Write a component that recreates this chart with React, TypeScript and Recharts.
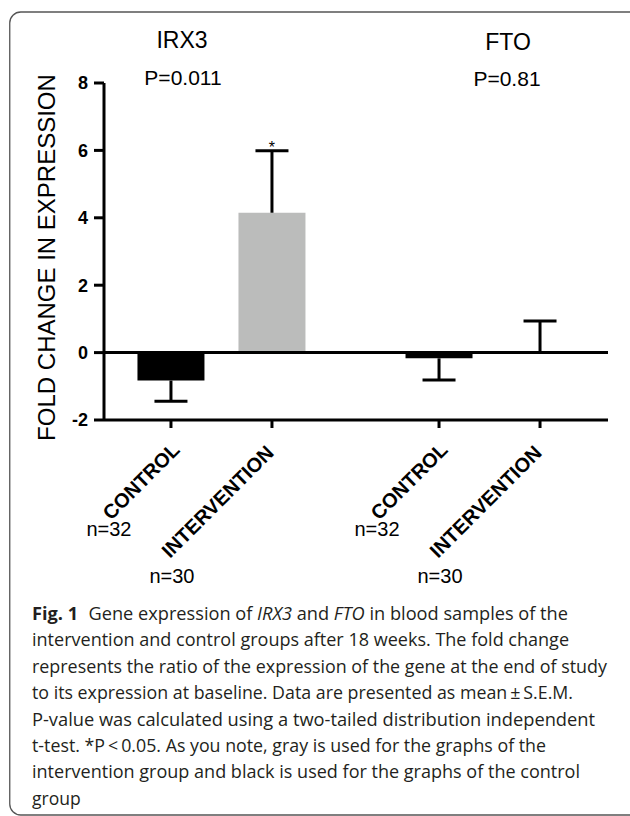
import React from 'react';
import { ComposedChart, Bar, Cell, XAxis, YAxis, ReferenceLine, Scatter, ErrorBar } from 'recharts';

// ---- data ----
const genes = ['IRX3', 'FTO'];
const pValues = ['P=0.011', 'P=0.81'];
const groups = ['CONTROL', 'INTERVENTION'];
const groupColors = ['#000000', '#BBBCBB'];
const sampleSizesIRX3 = ['n=32', 'n=30'];
const sampleSizesFTO = ['n=32', 'n=30'];
const meanIRX3 = [-0.83, 4.15];
const semIRX3 = [0.61, 1.84];
const meanFTO = [-0.17, 0.03];
const semFTO = [0.64, 0.91];
const significantIRX3 = [false, true];
const significantFTO = [false, false];
const yTicks = [-2, 0, 2, 4, 6, 8];
const captionLines = [
  'Fig. 1',
  'intervention and control groups after 18 weeks. The fold change',
  'represents the ratio of the expression of the gene at the end of study',
  'to its expression at baseline. Data are presented as mean\u2009\u00b1\u2009S.E.M.',
  'P-value was calculated using a two-tailed distribution independent',
  't-test. *P\u2009<\u20090.05. As you note, gray is used for the graphs of the',
  'intervention group and black is used for the graphs of the control',
  'group',
];

// ---- layout ----
const W = 630;
const H = 816;
const GROUP_STEP = 2.654;
const X_DOMAIN: [number, number] = [0.337, 5.327];
const AXIS_FONT = "'Liberation Sans', Arial, sans-serif";

const means = [meanIRX3, meanFTO];
const sems = [semIRX3, semFTO];
const sizes = [sampleSizesIRX3, sampleSizesFTO];
const sigs = [significantIRX3, significantFTO];

const rows = genes.flatMap((gene, g) =>
  groups.map((grp, i) => {
    const mean = means[g][i];
    const sem = sems[g][i];
    const up = mean >= 0;
    return {
      pos: 1 + i + g * GROUP_STEP,
      gene,
      group: grp,
      member: i,
      n: sizes[g][i],
      mean,
      err: up ? [0, sem] : [sem, 0],
      errEnd: up ? mean + sem : mean - sem,
      sig: sigs[g][i],
    };
  })
);

const XTick = (props: any) => {
  const { x, y, payload } = props;
  const row = rows.find((r) => Math.abs(r.pos - payload.value) < 1e-6);
  if (!row) return null;
  const ctrl = row.member === 0;
  const ax = x + (ctrl ? 10 : 3);
  const ay = y + (ctrl ? 21 : 24);
  const nx = x + (ctrl ? -62 : -100);
  const ny = y + (ctrl ? 105.5 : 152.5);
  return (
    <g>
      <text
        x={ax}
        y={ay}
        textAnchor="end"
        transform={`rotate(-45, ${ax}, ${ay})`}
        fontFamily={AXIS_FONT}
        fontWeight="bold"
        fontSize={20}
        fill="#000"
      >
        {row.group}
      </text>
      <text x={nx} y={ny} textAnchor="middle" fontFamily={AXIS_FONT} fontSize={20} fill="#000">
        {row.n}
      </text>
    </g>
  );
};

const CapShape = (props: any) => {
  const { cx, cy, payload } = props;
  if (cx == null || cy == null) return null;
  return (
    <g>
      <line x1={cx - 16.5} x2={cx + 16.5} y1={cy} y2={cy} stroke="#000" strokeWidth={3} />
      {payload.sig ? (
        <text x={cx} y={cy + 2} textAnchor="middle" fontFamily={AXIS_FONT} fontSize={16} fill="#000">
          *
        </text>
      ) : null}
    </g>
  );
};

const YLabel = (props: any) => {
  const vb = props.viewBox || { x: 0, y: 83, width: 104, height: 337 };
  const lx = vb.x + 55;
  const ly = vb.y + vb.height / 2 + 6;
  return (
    <text
      x={lx}
      y={ly}
      textAnchor="middle"
      transform={`rotate(-90, ${lx}, ${ly})`}
      fontFamily={AXIS_FONT}
      fontSize={24}
      fill="#000"
    >
      FOLD CHANGE IN EXPRESSION
    </text>
  );
};

const titleX = [182, 508];
const titleY = [48, 50];
const pX = [183, 507];
const pY = [85, 86];

const captionX = 32;
const captionBase = 620;
const captionStep = 26.4;
const captionWidths = [536, 537, 575, 541, 563, 514, 548, 0];
const CAPTION_FONT = "'Open Sans', 'Noto Sans', sans-serif";

export default function App() {
  return (
    <div style={{ position: 'fixed', left: 0, top: 0, width: W, height: H, background: '#fff', overflow: 'hidden' }}>
      <div style={{ position: 'absolute', left: 0, top: 0 }}>
        <ComposedChart
          width={W}
          height={610}
          data={rows}
          margin={{ top: 83, right: 22, left: 0, bottom: 0 }}
        >
          <XAxis
            dataKey="pos"
            type="number"
            domain={X_DOMAIN}
            ticks={rows.map((r) => r.pos)}
            allowDataOverflow
            height={190}
            tickSize={8}
            tickMargin={2}
            axisLine={{ stroke: '#000', strokeWidth: 3 }}
            tickLine={{ stroke: '#000', strokeWidth: 3 }}
            tick={<XTick />}
            interval={0}
          />
          <YAxis
            type="number"
            domain={[-2, 8]}
            ticks={yTicks}
            allowDataOverflow
            width={104}
            tickSize={10}
            tickMargin={6}
            axisLine={{ stroke: '#000', strokeWidth: 3 }}
            tickLine={{ stroke: '#000', strokeWidth: 3 }}
            tick={{ fontFamily: AXIS_FONT, fontWeight: 'bold', fontSize: 18, fill: '#000' }}
            label={YLabel}
          />
          <Bar dataKey="mean" barSize={67} isAnimationActive={false}>
            {rows.map((r, i) => (
              <Cell key={i} fill={groupColors[r.member]} />
            ))}
            <ErrorBar dataKey="err" width={0} stroke="#000" strokeWidth={3} direction="y" />
          </Bar>
          <ReferenceLine y={0} stroke="#000" strokeWidth={3} />
          <Scatter dataKey="errEnd" shape={<CapShape />} isAnimationActive={false} />
        </ComposedChart>
      </div>
      <svg
        width={W}
        height={H}
        style={{ position: 'absolute', left: 0, top: 0, pointerEvents: 'none' }}
      >
        <rect x={9.75} y={12} width={640} height={803} rx={11} ry={11} fill="none" stroke="#555" strokeWidth={1.3} />
        {genes.map((g, i) => (
          <text key={'t' + i} x={titleX[i]} y={titleY[i]} textAnchor="middle" fontFamily={AXIS_FONT} fontSize={23} fill="#000">
            {g}
          </text>
        ))}
        {pValues.map((p, i) => (
          <text key={'p' + i} x={pX[i]} y={pY[i]} textAnchor="middle" fontFamily={AXIS_FONT} fontSize={21} fill="#000">
            {p}
          </text>
        ))}
        {captionLines.map((line, i) => {
          const y = captionBase + i * captionStep;
          const tl = captionWidths[i] > 0 ? { textLength: captionWidths[i], lengthAdjust: 'spacingAndGlyphs' as const } : {};
          if (i === 0) {
            return (
              <text key={'c' + i} x={captionX} y={y} fontFamily={CAPTION_FONT} fontSize={17.5} fill="#231f20" {...tl}>
                <tspan fontWeight="bold">{line}</tspan>
                <tspan dx={10}>Gene expression of </tspan>
                <tspan fontStyle="italic">IRX3</tspan>
                <tspan> and </tspan>
                <tspan fontStyle="italic">FTO</tspan>
                <tspan> in blood samples of the</tspan>
              </text>
            );
          }
          return (
            <text key={'c' + i} x={captionX} y={y} fontFamily={CAPTION_FONT} fontSize={17.5} fill="#231f20" {...tl}>
              {line}
            </text>
          );
        })}
      </svg>
    </div>
  );
}
